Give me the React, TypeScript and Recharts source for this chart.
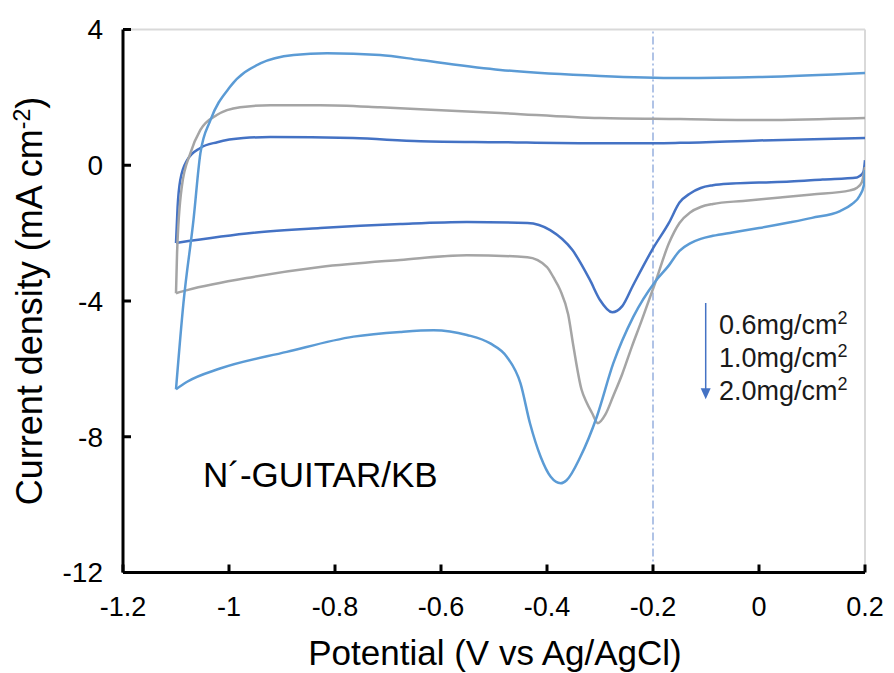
import { LineChart, Line, XAxis, YAxis, ReferenceLine } from 'recharts'

const potentialTicks = [-1.2, -1, -0.8, -0.6, -0.4, -0.2, 0, 0.2]
const currentTicks = [-12, -8, -4, 0, 4]
const loadingLabels = ['0.6mg/cm', '1.0mg/cm', '2.0mg/cm']

// [potential V, current density mA cm-2], cathodic sweep from 0.2 V down to -1.1 V
const cathodic06: [number, number][] = [
  [0.2, 0.15], [0.197, -0.2], [0.19, -0.32], [0.185, -0.36], [0.12, -0.42], [0.059, -0.48],
  [0.0, -0.51], [-0.05, -0.54], [-0.087, -0.59], [-0.11, -0.67], [-0.13, -0.83],
  [-0.15, -1.1], [-0.17, -1.7], [-0.2, -2.45], [-0.238, -3.55], [-0.258, -4.15],
  [-0.277, -4.33], [-0.3, -3.97], [-0.319, -3.38], [-0.352, -2.5], [-0.394, -1.91],
  [-0.437, -1.7], [-0.551, -1.67], [-0.677, -1.73], [-0.828, -1.85], [-0.954, -1.99],
  [-1.1, -2.29],
]
// anodic sweep back from -1.1 V to 0.2 V
const anodic06: [number, number][] = [
  [-1.1, -2.29], [-1.097, -1.23], [-1.092, -0.44], [-1.079, 0.15], [-1.054, 0.51],
  [-1.022, 0.68], [-0.973, 0.8], [-0.922, 0.83], [-0.766, 0.8], [-0.639, 0.71],
  [-0.488, 0.68], [-0.339, 0.65], [-0.196, 0.65], [-0.149, 0.66], [0.0, 0.73], [0.2, 0.8],
]

const cathodic10: [number, number][] = [
  [0.2, -0.05], [0.194, -0.5], [0.185, -0.66], [0.172, -0.74], [0.1, -0.86], [0.04, -0.95],
  [-0.03, -1.05], [-0.087, -1.14], [-0.11, -1.23], [-0.13, -1.39], [-0.15, -1.7],
  [-0.17, -2.3], [-0.196, -3.47], [-0.222, -4.6], [-0.24, -5.35], [-0.258, -6.15],
  [-0.275, -6.8], [-0.29, -7.35], [-0.304, -7.6], [-0.315, -7.3], [-0.325, -7.0],
  [-0.335, -6.6], [-0.35, -5.35], [-0.36, -4.4], [-0.375, -3.68], [-0.388, -3.3],
  [-0.4, -3.0], [-0.437, -2.71], [-0.551, -2.65], [-0.677, -2.79], [-0.828, -3.0],
  [-0.954, -3.29], [-1.079, -3.68], [-1.1, -3.77],
]
const anodic10: [number, number][] = [
  [-1.1, -3.77], [-1.098, -2.59], [-1.089, -0.63], [-1.073, 0.35], [-1.054, 1.04],
  [-1.023, 1.48], [-0.979, 1.71], [-0.922, 1.77], [-0.828, 1.77], [-0.715, 1.71],
  [-0.639, 1.65], [-0.488, 1.54], [-0.3, 1.39], [-0.149, 1.36], [0.0, 1.33], [0.2, 1.39],
]

const cathodic20: [number, number][] = [
  [0.2, -0.14], [0.198, -0.58], [0.19, -0.9], [0.175, -1.15], [0.153, -1.35], [0.1, -1.55],
  [0.059, -1.68], [0.0, -1.85], [-0.05, -1.98], [-0.087, -2.08], [-0.11, -2.17],
  [-0.13, -2.3], [-0.15, -2.52], [-0.17, -2.95], [-0.196, -3.43], [-0.237, -4.46],
  [-0.275, -5.84], [-0.306, -7.41], [-0.337, -8.59], [-0.363, -9.28], [-0.374, -9.37],
  [-0.393, -9.18], [-0.412, -8.59], [-0.432, -7.61], [-0.45, -6.43], [-0.476, -5.64],
  [-0.507, -5.25], [-0.551, -5.0], [-0.614, -4.86], [-0.677, -4.91], [-0.765, -5.05],
  [-0.891, -5.5], [-1.017, -5.99], [-1.079, -6.38], [-1.1, -6.6],
]
const anodic20: [number, number][] = [
  [-1.1, -6.6], [-1.086, -4.07], [-1.067, -1.61], [-1.054, 0.35], [-1.035, 1.33],
  [-0.998, 2.31], [-0.941, 3.0], [-0.878, 3.25], [-0.815, 3.3], [-0.715, 3.25],
  [-0.639, 3.1], [-0.488, 2.81], [-0.3, 2.63], [-0.149, 2.57], [0.0, 2.6], [0.2, 2.72],
]

const toPoints = (pairs: [number, number][]) => pairs.map(([x, y]) => ({ x, y }))

const series = [
  { id: '06', color: '#4472C4', cathodic: cathodic06, anodic: anodic06 },
  { id: '10', color: '#A5A5A5', cathodic: cathodic10, anodic: anodic10 },
  { id: '20', color: '#5B9BD5', cathodic: cathodic20, anodic: anodic20 },
]

const W = 878
const H = 665
const font = 'Arial, "Liberation Sans", sans-serif'

export default function App() {
  return (
    <div style={{ position: 'relative', width: W, height: H, fontFamily: font }}>
      <LineChart width={W} height={H} margin={{ top: 21.5, right: 21, left: 0, bottom: 0 }}>
        <XAxis
          dataKey="x"
          type="number"
          domain={[-1.2, 0.2]}
          ticks={potentialTicks}
          allowDataOverflow
          height={100.5}
          tickFormatter={(v: number) => String(Math.round(v * 10) / 10)}
          axisLine={{ stroke: '#000', strokeWidth: 3 }}
          tickLine={{ stroke: '#000', strokeWidth: 3 }}
          tickSize={-8}
          tickMargin={32}
          tick={{ fill: '#000', fontSize: 27, fontFamily: font }}
        />
        <YAxis
          type="number"
          domain={[-12, 4]}
          ticks={currentTicks}
          allowDataOverflow
          width={115}
          axisLine={{ stroke: '#000', strokeWidth: 3 }}
          tickLine={{ stroke: '#000', strokeWidth: 3 }}
          tickSize={-8}
          tickMargin={28}
          tick={{ fill: '#000', fontSize: 28, fontFamily: font }}
        />
        {/* plot frame on top and right */}
        <ReferenceLine y={4} stroke="#D9D9D9" strokeWidth={2} />
        <ReferenceLine x={0.2} stroke="#D9D9D9" strokeWidth={2} />
        <ReferenceLine x={-0.2} stroke="#8FAADC" strokeWidth={1.4} strokeDasharray="8 3 2 3" />
        {series.map(s => [
          <Line
            key={s.id + 'c'}
            data={toPoints(s.cathodic)}
            dataKey="y"
            type="monotone"
            stroke={s.color}
            strokeWidth={2.5}
            dot={false}
            activeDot={false}
            isAnimationActive={false}
          />,
          <Line
            key={s.id + 'a'}
            data={toPoints(s.anodic)}
            dataKey="y"
            type="monotone"
            stroke={s.color}
            strokeWidth={2.5}
            dot={false}
            activeDot={false}
            isAnimationActive={false}
          />,
        ])}
      </LineChart>

      <svg
        width={W}
        height={H}
        style={{ position: 'absolute', left: 0, top: 0, pointerEvents: 'none' }}
        fontFamily={font}
      >
        <text transform="translate(34 293) rotate(-90)" textAnchor="middle" fontSize={36} fill="#000">
          Current density (mA cm<tspan fontSize={23} dy={-12}>-2</tspan>
          <tspan dy={12}>)</tspan>
        </text>
        <text x={487} y={657} textAnchor="middle" fontSize={35} fill="#000">
          Potential (V vs Ag/AgCl)
        </text>
        <text x={195} y={479} fontSize={35} fill="#000">
          N´-GUITAR/KB
        </text>

        <line x1={697.7} y1={295} x2={697.7} y2={382} stroke="#4472C4" strokeWidth={1.5} />
        <polygon points="692.7,380.3 702.7,380.3 697.7,391.3" fill="#4472C4" />
        {loadingLabels.map((t, i) => (
          <text key={t} x={711} y={326.3 + i * 32.8} fontSize={27} fill="#1a1a1a">
            {t}
            <tspan fontSize={18} dy={-10}>2</tspan>
          </text>
        ))}
      </svg>
    </div>
  )
}
